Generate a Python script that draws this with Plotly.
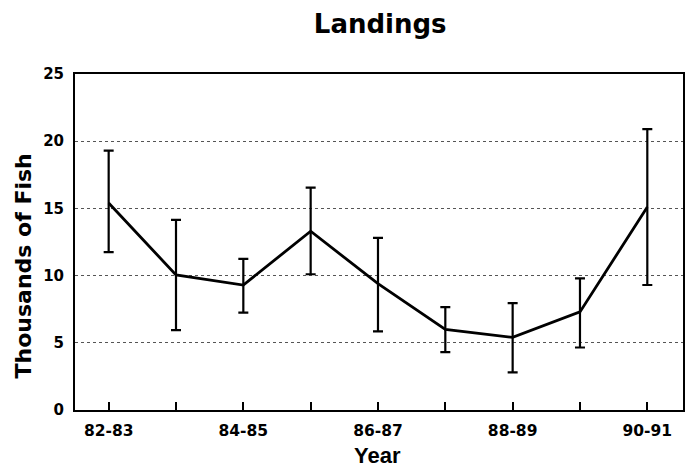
import plotly.graph_objects as go

# Fishing seasons and estimated landings (thousands of fish)
seasons = ["82-83", "83-84", "84-85", "85-86", "86-87", "87-88", "88-89", "89-90", "90-91"]
landings = [15.4, 10.05, 9.3, 13.3, 9.4, 6.0, 5.4, 7.3, 15.1]
upper = [19.3, 14.15, 11.25, 16.55, 12.8, 7.65, 7.95, 9.8, 20.9]
lower = [11.75, 5.95, 7.25, 10.1, 5.85, 4.3, 2.8, 4.65, 9.3]
y_ticks = [0, 5, 10, 15, 20, 25]

err_plus = [u - v for u, v in zip(upper, landings)]
err_minus = [v - l for v, l in zip(landings, lower)]
x_tick_text = [f"<b>{s}</b>" if i % 2 == 0 else "" for i, s in enumerate(seasons)]
y_tick_text = [f"<b>{v}</b>" for v in y_ticks]

WIDE = "DejaVu Sans, Verdana, sans-serif"
ARIAL = "Liberation Sans, Arial, sans-serif"

fig = go.Figure(
    go.Scatter(
        x=list(range(len(seasons))),
        y=landings,
        mode="lines",
        line=dict(color="black", width=2.8),
        error_y=dict(
            type="data",
            symmetric=False,
            array=err_plus,
            arrayminus=err_minus,
            color="black",
            thickness=2.2,
            width=5,
        ),
        showlegend=False,
    )
)

fig.update_layout(
    width=690,
    height=469,
    margin=dict(l=75, r=5, t=74, b=59),
    paper_bgcolor="white",
    plot_bgcolor="white",
    font=dict(family=WIDE, color="black"),
    title=dict(
        text="<b>Landings</b>",
        font=dict(size=26, family=WIDE, color="black"),
        x=0.551,
        xanchor="center",
        y=0.95,
        yanchor="middle",
    ),
    annotations=[
        dict(
            text="<b>Thousands of Fish</b>",
            xref="paper", yref="paper",
            x=-0.084, y=0.43,
            xanchor="center", yanchor="middle",
            textangle=-90,
            showarrow=False,
            font=dict(size=22, family=WIDE, color="black"),
        ),
        dict(
            text="<b>Year</b>",
            xref="paper", yref="paper",
            x=0.498, y=-0.135,
            xanchor="center", yanchor="middle",
            showarrow=False,
            font=dict(size=22, family=ARIAL, color="black"),
        ),
    ],
)

fig.update_xaxes(
    range=[-0.5, 8.53],
    tickmode="array",
    tickvals=list(range(len(seasons))),
    ticktext=x_tick_text,
    ticks="inside",
    ticklen=8,
    tickwidth=2,
    tickcolor="black",
    ticklabelstandoff=5,
    tickfont=dict(size=15.5, family=WIDE, color="black"),
    showgrid=False,
    zeroline=False,
    showline=True,
    linecolor="black",
    linewidth=2,
    mirror=True,
)

fig.update_yaxes(
    range=[0, 25],
    tickmode="array",
    tickvals=y_ticks,
    ticktext=y_tick_text,
    ticks="",
    ticklabelstandoff=6,
    tickfont=dict(size=15, family=WIDE, color="black"),
    showgrid=True,
    gridcolor="#555555",
    gridwidth=1,
    griddash="dot",
    zeroline=False,
    showline=True,
    linecolor="black",
    linewidth=2,
    mirror=True,
)

fig.write_html("out.html")
